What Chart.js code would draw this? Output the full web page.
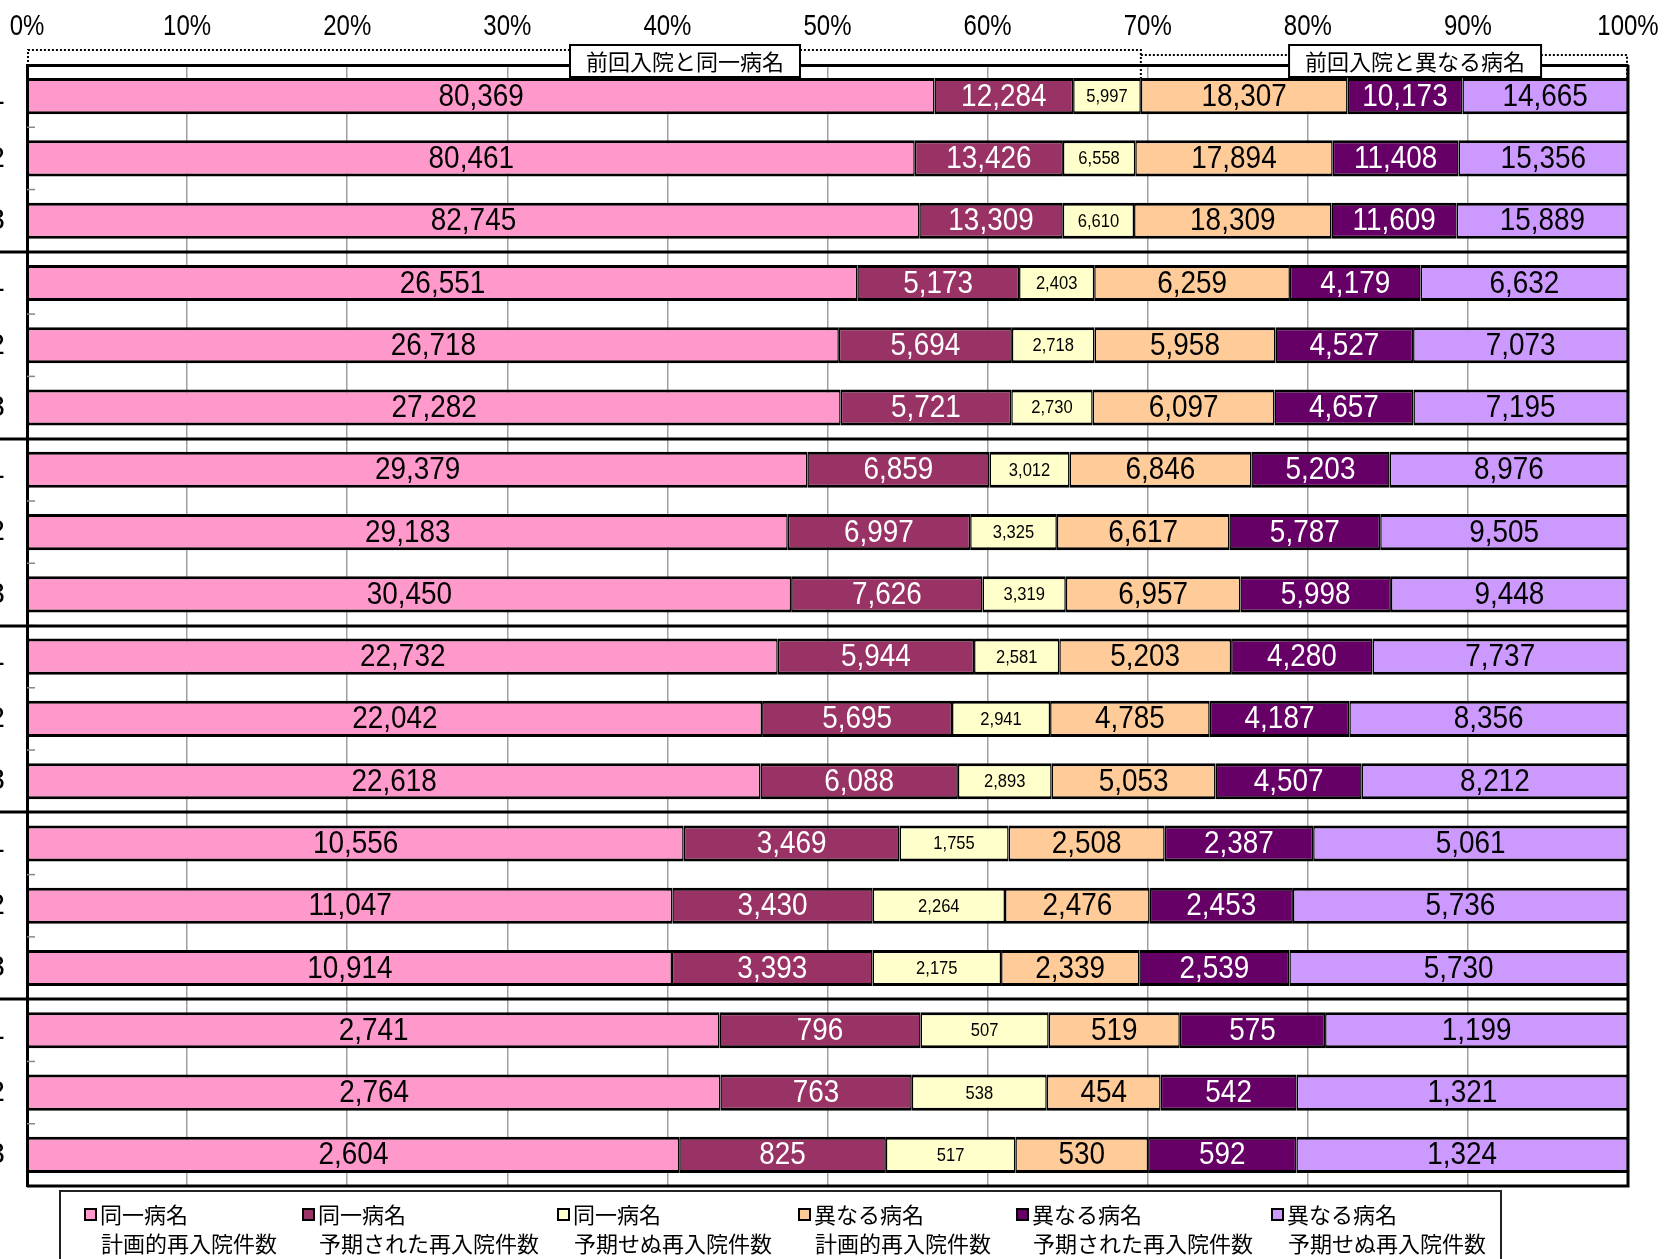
<!DOCTYPE html>
<html>
<head>
<meta charset="utf-8">
<script src="https://cdn.jsdelivr.net/npm/chart.js@4.4.1/dist/chart.umd.min.js"></script>
<style>
    html, body { margin: 0; padding: 0; background: #fff; overflow: hidden; }
    #wrap { position: relative; width: 1664px; height: 1259px; }
</style>
</head>
<body>
<div id="wrap"><canvas id="chart"></canvas></div>
<script>
// row labels (only the last digit shows at the left edge)
const categories = ['1', '2', '3', '1', '2', '3', '1', '2', '3', '1', '2', '3', '1', '2', '3', '1', '2', '3'];

// counts per row
const samePlanned    = [80369, 80461, 82745, 26551, 26718, 27282, 29379, 29183, 30450, 22732, 22042, 22618, 10556, 11047, 10914, 2741, 2764, 2604];
const sameExpected   = [12284, 13426, 13309, 5173, 5694, 5721, 6859, 6997, 7626, 5944, 5695, 6088, 3469, 3430, 3393, 796, 763, 825];
const sameUnexpected = [5997, 6558, 6610, 2403, 2718, 2730, 3012, 3325, 3319, 2581, 2941, 2893, 1755, 2264, 2175, 507, 538, 517];
const diffPlanned    = [18307, 17894, 18309, 6259, 5958, 6097, 6846, 6617, 6957, 5203, 4785, 5053, 2508, 2476, 2339, 519, 454, 530];
const diffExpected   = [10173, 11408, 11609, 4179, 4527, 4657, 5203, 5787, 5998, 4280, 4187, 4507, 2387, 2453, 2539, 575, 542, 592];
const diffUnexpected = [14665, 15356, 15889, 6632, 7073, 7195, 8976, 9505, 9448, 7737, 8356, 8212, 5061, 5736, 5730, 1199, 1321, 1324];

const xTicks = [0, 10, 20, 30, 40, 50, 60, 70, 80, 90, 100];

const seriesLabels = [
    ['同一病名', '計画的再入院件数'],
    ['同一病名', '予期された再入院件数'],
    ['同一病名', '予期せぬ再入院件数'],
    ['異なる病名', '計画的再入院件数'],
    ['異なる病名', '予期された再入院件数'],
    ['異なる病名', '予期せぬ再入院件数']
];
const groupTitles = ['前回入院と同一病名', '前回入院と異なる病名'];

const seriesCounts = [samePlanned, sameExpected, sameUnexpected, diffPlanned, diffExpected, diffUnexpected];
const fills = ['#FF99CC', '#993366', '#FFFFCC', '#FFCC99', '#660066', '#CC99FF'];
const textColors = ['#000', '#fff', '#000', '#000', '#fff', '#000'];

const NUM_FONT = '"Liberation Sans", Arial, sans-serif';
const JP_FONT = '"Noto Sans CJK JP", "Noto Sans", sans-serif';

let rowTotals = categories.map(function (c, i) {
    return seriesCounts.reduce(function (s, arr) { return s + arr[i]; }, 0);
});

let datasets = seriesCounts.map(function (arr, k) {
    return {
        label: seriesLabels[k].join(''),
        data: arr.map(function (v, i) { return v / rowTotals[i] * 100; }),
        counts: arr,
        backgroundColor: fills[k],
        borderColor: '#000',
        borderWidth: {top: 3, bottom: 3, left: 1.5, right: 1.5},
        borderSkipped: false,
        barPercentage: 0.58,
        categoryPercentage: 1.0
    };
});

// narrow text: draw squeezed horizontally around (x, y)
function narrowText(ctx, text, x, y, sx) {
    ctx.save();
    ctx.translate(x, y);
    ctx.scale(sx, 1);
    ctx.fillText(text, 0, 0);
    ctx.restore();
}

const overlay = {
    id: 'overlay',

    afterDatasetsDraw: function (chart) {
        const ctx = chart.ctx;
        ctx.save();
        ctx.textAlign = 'center';
        ctx.textBaseline = 'middle';
        chart.data.datasets.forEach(function (ds, k) {
            const meta = chart.getDatasetMeta(k);
            ctx.fillStyle = textColors[k];
            ctx.font = (k === 2 ? '18px ' : '31px ') + NUM_FONT;
            meta.data.forEach(function (bar, i) {
                const cx = (bar.x + bar.base) / 2;
                narrowText(ctx, ds.counts[i].toLocaleString('en-US'), cx, bar.y + 1, k === 2 ? 0.92 : 0.9);
            });
        });
        ctx.restore();
    },

    afterDraw: function (chart) {
        const ctx = chart.ctx;
        const area = chart.chartArea;
        const xs = chart.scales.x, ys = chart.scales.y;
        ctx.save();

        // top percent labels
        ctx.fillStyle = '#000';
        ctx.font = '30px ' + NUM_FONT;
        ctx.textAlign = 'center';
        ctx.textBaseline = 'middle';
        xs.ticks.forEach(function (t) {
            narrowText(ctx, t.value + '%', xs.getPixelForValue(t.value), 27, 0.8);
        });

        // right + bottom frame
        ctx.strokeStyle = '#000';
        ctx.lineWidth = 3;
        ctx.beginPath();
        ctx.moveTo(area.left, area.bottom);
        ctx.lineTo(area.right, area.bottom);
        ctx.lineTo(area.right, area.top);
        ctx.stroke();

        // short marks between rows, inside the left border
        ctx.strokeStyle = '#888';
        ctx.lineWidth = 1.5;
        for (let i = 1; i < categories.length; i++) {
            const yb = (ys.getPixelForValue(i - 1) + ys.getPixelForValue(i)) / 2;
            ctx.beginPath();
            ctx.moveTo(area.left, yb);
            ctx.lineTo(area.left + 8, yb);
            ctx.stroke();
        }

        // group separators every three rows
        ctx.strokeStyle = '#000';
        ctx.lineWidth = 3;
        for (let i = 3; i < categories.length; i += 3) {
            const yb = Math.round((ys.getPixelForValue(i - 1) + ys.getPixelForValue(i)) / 2);
            ctx.beginPath();
            ctx.moveTo(0, yb);
            ctx.lineTo(area.right, yb);
            ctx.stroke();
        }

        // dotted brackets over the first row
        const first = chart.getDatasetMeta(2).data[0];
        const barTop = first.y - first.height / 2;
        const split = first.x;
        ctx.setLineDash([2, 2]);
        ctx.lineWidth = 2;
        ctx.beginPath();
        ctx.moveTo(area.left + 1, barTop);
        ctx.lineTo(area.left + 1, 50);
        ctx.lineTo(split, 50);
        ctx.lineTo(split, barTop);
        ctx.moveTo(split, 55);
        ctx.lineTo(area.right - 1, 55);
        ctx.lineTo(area.right - 1, barTop);
        ctx.stroke();
        ctx.setLineDash([]);

        // group title boxes
        ctx.font = '22px ' + JP_FONT;
        ctx.textAlign = 'center';
        ctx.textBaseline = 'middle';
        [[groupTitles[0], 41.1], [groupTitles[1], 86.7]].forEach(function (g) {
            const cx = xs.getPixelForValue(g[1]);
            const w = ctx.measureText(g[0]).width + 32;
            ctx.fillStyle = '#fff';
            ctx.fillRect(cx - w / 2, 45, w, 32);
            ctx.strokeStyle = '#000';
            ctx.lineWidth = 2;
            ctx.strokeRect(cx - w / 2, 45, w, 32);
            ctx.fillStyle = '#000';
            ctx.fillText(g[0], cx, 62);
        });

        // legend
        ctx.strokeStyle = '#222';
        ctx.lineWidth = 2;
        ctx.strokeRect(60, 1191, 1441, 120);
        const legendX = [85, 303, 558, 799, 1017, 1272];
        ctx.font = '22px ' + JP_FONT;
        ctx.textAlign = 'left';
        seriesLabels.forEach(function (lines, k) {
            const lx = legendX[k];
            ctx.fillStyle = fills[k];
            ctx.fillRect(lx, 1209, 11, 11);
            ctx.strokeStyle = '#000';
            ctx.lineWidth = 2;
            ctx.strokeRect(lx, 1209, 11, 11);
            ctx.fillStyle = '#000';
            ctx.fillText(lines[0], lx + 15, 1215);
            ctx.fillText(lines[1], lx + 16, 1244);
        });

        ctx.restore();
    }
};

new Chart(document.getElementById('chart'), {
    type: 'bar',
    data: {labels: categories, datasets: datasets},
    options: {
        indexAxis: 'y',
        responsive: true,
        maintainAspectRatio: false,
        animation: false,
        layout: {padding: {left: 0, right: 36, top: 0, bottom: 73}},
        plugins: {legend: {display: false}, tooltip: {enabled: false}},
        scales: {
            x: {
                stacked: true,
                position: 'top',
                min: 0,
                max: 100,
                afterBuildTicks: function (s) {
                    s.ticks = xTicks.map(function (v) { return {value: v}; });
                },
                ticks: {display: false},
                grid: {color: '#a0a0a0', lineWidth: 1.5, drawTicks: false},
                border: {color: '#000', width: 3},
                afterFit: function (s) {
                    s.height = 65;
                    s.paddingLeft = 0;
                    s.paddingRight = 0;
                }
            },
            y: {
                stacked: true,
                ticks: {font: {family: NUM_FONT, size: 30}, color: '#000', padding: 22},
                grid: {display: false, drawTicks: false},
                border: {color: '#000', width: 3},
                afterFit: function (s) { s.width = 27; }
            }
        }
    },
    plugins: [overlay]
});
</script>
</body>
</html>
